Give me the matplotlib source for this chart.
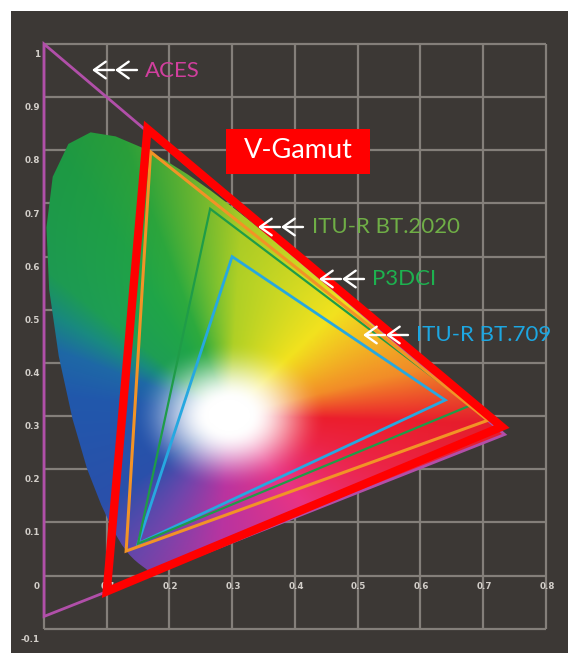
import numpy as np
import matplotlib
matplotlib.use("Agg")
import matplotlib.pyplot as plt
from matplotlib.patches import Polygon, Rectangle

# ---------------- data ----------------
# CIE 1931 spectral locus (x, y), 380..700 nm
locus_x = [0.1741, 0.1740, 0.1738, 0.1736, 0.1733, 0.1730, 0.1726, 0.1721, 0.1714, 0.1703,
           0.1689, 0.1669, 0.1644, 0.1611, 0.1566, 0.1510, 0.1440, 0.1355, 0.1241, 0.1096,
           0.0913, 0.0687, 0.0454, 0.0235, 0.0082, 0.0039, 0.0139, 0.0389, 0.0743, 0.1142,
           0.1547, 0.1929, 0.2296, 0.2658, 0.3016, 0.3373, 0.3731, 0.4087, 0.4441, 0.4788,
           0.5125, 0.5448, 0.5752, 0.6029, 0.6270, 0.6482, 0.6658, 0.6801, 0.6915, 0.7006,
           0.7079, 0.7140, 0.7190, 0.7230, 0.7260, 0.7283, 0.7300, 0.7311, 0.7320, 0.7334, 0.7347]
locus_y = [0.0050, 0.0050, 0.0049, 0.0049, 0.0048, 0.0048, 0.0048, 0.0048, 0.0051, 0.0058,
           0.0069, 0.0086, 0.0109, 0.0138, 0.0177, 0.0227, 0.0297, 0.0399, 0.0578, 0.0868,
           0.1327, 0.2007, 0.2950, 0.4127, 0.5384, 0.6548, 0.7502, 0.8120, 0.8338, 0.8262,
           0.8059, 0.7816, 0.7543, 0.7243, 0.6923, 0.6589, 0.6245, 0.5896, 0.5547, 0.5202,
           0.4866, 0.4544, 0.4242, 0.3965, 0.3725, 0.3514, 0.3340, 0.3197, 0.3083, 0.2993,
           0.2920, 0.2859, 0.2809, 0.2770, 0.2740, 0.2717, 0.2700, 0.2689, 0.2680, 0.2666, 0.2653]

# gamut primaries: (R, G, B) x and y
aces_x = [0.7347, 0.0000, 0.0001]
aces_y = [0.2653, 1.0000, -0.0770]
vgamut_x = [0.730, 0.165, 0.100]
vgamut_y = [0.280, 0.840, -0.030]
bt2020_x = [0.708, 0.170, 0.131]
bt2020_y = [0.292, 0.797, 0.046]
p3dci_x = [0.680, 0.265, 0.150]
p3dci_y = [0.320, 0.690, 0.060]
bt709_x = [0.640, 0.300, 0.150]
bt709_y = [0.330, 0.600, 0.060]

x_ticks = [0.1, 0.2, 0.3, 0.4, 0.5, 0.6, 0.7, 0.8]
x_tick_labels = ["0.1", "0.2", "0.3", "0.4", "0.5", "0.6", "0.7", "0.8"]
y_ticks = [1.0, 0.9, 0.8, 0.7, 0.6, 0.5, 0.4, 0.3, 0.2, 0.1, 0.0, -0.1]
y_tick_labels = ["1", "0.9", "0.8", "0.7", "0.6", "0.5", "0.4", "0.3", "0.2", "0.1", "0", "-0.1"]

labels = ["ACES", "ITU-R BT.2020", "P3DCI", "ITU-R BT.709"]
label_colors = ["#d13f9e", "#6fae46", "#1db14f", "#1da7e2"]

# hue wheel of the diagram fill (angle around the white point, degrees -> colour)
wheel_deg = [-2, 16, 49, 87, 108, 118, 137, 146, 156, 172, 220, 242, 267, 305, 339, 358]
wheel_rgb = [(235, 30, 45), (242, 140, 40), (242, 226, 30), (175, 208, 38), (45, 170, 62),
             (32, 165, 72), (30, 158, 84), (25, 138, 128), (30, 104, 166), (33, 88, 172),
             (42, 80, 170), (110, 70, 172), (185, 52, 160), (232, 52, 132), (236, 36, 70),
             (235, 30, 45)]

# ---------------- figure ----------------
W, H = 568, 653
fig = plt.figure(figsize=(W / 100, H / 100), dpi=100, facecolor="white")
ax = fig.add_axes([0, 0, 1, 1])
x0px, sx = 44.0, 627.0
y0px, sy = 575.5, 531.5
ax.set_xlim(-x0px / sx, (W - x0px) / sx)
ax.set_ylim((y0px - H) / sy, y0px / sy)
ax.axis("off")

def px2x(p):
    return (p - x0px) / sx

def px2y(p):
    return (y0px - p) / sy

# dark panel
ax.add_patch(Rectangle((px2x(11), px2y(H)), px2x(W) - px2x(11), px2y(11) - px2y(H),
                       facecolor="#3c3835", edgecolor="none", zorder=0))

# grid
gcol = "#847f7a"
for xv in [0.0] + x_ticks:
    ax.plot([xv, xv], [-0.1, 1.0], color=gcol, lw=1.6, zorder=1, solid_capstyle="butt")
for yv in y_ticks:
    ax.plot([0.0, 0.8], [yv, yv], color=gcol, lw=1.6, zorder=1, solid_capstyle="butt")

# tick labels
tcol = "#d2cec9"
for yv, lab in zip(y_ticks, y_tick_labels):
    ax.text(px2x(40), yv - 0.02, lab, ha="right", va="center", fontsize=6.3,
            fontweight="bold", color=tcol, zorder=2)
for xv, lab in zip(x_ticks, x_tick_labels):
    ax.text(xv + 0.002, -0.021, lab, ha="center", va="center", fontsize=6.3,
            fontweight="bold", color=tcol, zorder=2)

# chromaticity fill
n = 500
gx = np.linspace(0.0, 0.75, n)
gy = np.linspace(0.0, 0.85, n)
XX, YY = np.meshgrid(gx, gy)
wx, wy = 0.295, 0.30
ang = np.degrees(np.arctan2(YY - wy, XX - wx))
ang = np.where(ang < -2, ang + 360, ang)
dist = np.hypot((XX - wx) * 0.9, YY - wy)
wd = np.array(wheel_deg, float)
wc = np.array(wheel_rgb, float) / 255.0
hue = np.stack([np.interp(ang, wd, wc[:, k]) for k in range(3)], axis=-1)
s = np.clip((dist - 0.03) / 0.11, 0, 1)
s = s * s * (3 - 2 * s)
rgb = 1 - (1 - hue) * s[..., None]
deep = np.clip((dist - 0.25) / 0.4, 0, 1)[..., None]
rgb = rgb * (1 - 0.10 * deep)
rgb = np.clip(rgb, 0, 1)
im = ax.imshow(rgb, extent=[gx[0], gx[-1], gy[0], gy[-1]], origin="lower",
               interpolation="bilinear", aspect="auto", zorder=3)
clip = Polygon(np.column_stack([locus_x, locus_y]), closed=True, transform=ax.transData)
im.set_clip_path(clip)

# gamut triangles
def tri(xs, ys, color, lw, z):
    ax.add_patch(Polygon(np.column_stack([xs, ys]), closed=True, fill=False,
                         edgecolor=color, lw=lw, joinstyle="miter", zorder=z))

tri(aces_x, aces_y, "#b14fa9", 2.0, 4)
tri(bt709_x, bt709_y, "#27a8e0", 2.0, 5)
tri(p3dci_x, p3dci_y, "#1f9c48", 1.6, 6)
tri(bt2020_x, bt2020_y, "#f29326", 2.2, 7)
tri(vgamut_x, vgamut_y, "#ff0000", 6.0, 8)

# labels with double arrows
arrow_start = [92, 258, 319, 363]
arrow_y = [70, 227, 279, 335]
text_pos = [(145, 71), (312, 227), (372, 279), (416, 335)]
for a0, ay, (tx_px, ty_px), lab, col in zip(arrow_start, arrow_y, text_pos, labels, label_colors):
    for k in range(2):
        tip = a0 + k * 23
        ax.annotate("", xy=(px2x(tip), px2y(ay)), xytext=(px2x(tip + 22), px2y(ay)),
                    arrowprops=dict(arrowstyle="->,head_length=0.42,head_width=0.3",
                                    color="white", lw=1.7, mutation_scale=20,
                                    shrinkA=0, shrinkB=0),
                    zorder=10)
    ax.text(px2x(tx_px), px2y(ty_px), lab, ha="left", va="center",
            fontsize=16, color=col, family="Lato", zorder=12)

# V-Gamut box
ax.add_patch(Rectangle((px2x(226), px2y(174)), px2x(370) - px2x(226), px2y(129) - px2y(174),
                       facecolor="#ff0000", edgecolor="none", zorder=10))
ax.text(px2x(298), px2y(151), "V-Gamut", ha="center", va="center", fontsize=19.5,
        color="white", family="Lato", zorder=11)

fig.savefig("out.png", dpi=100, facecolor="white")
